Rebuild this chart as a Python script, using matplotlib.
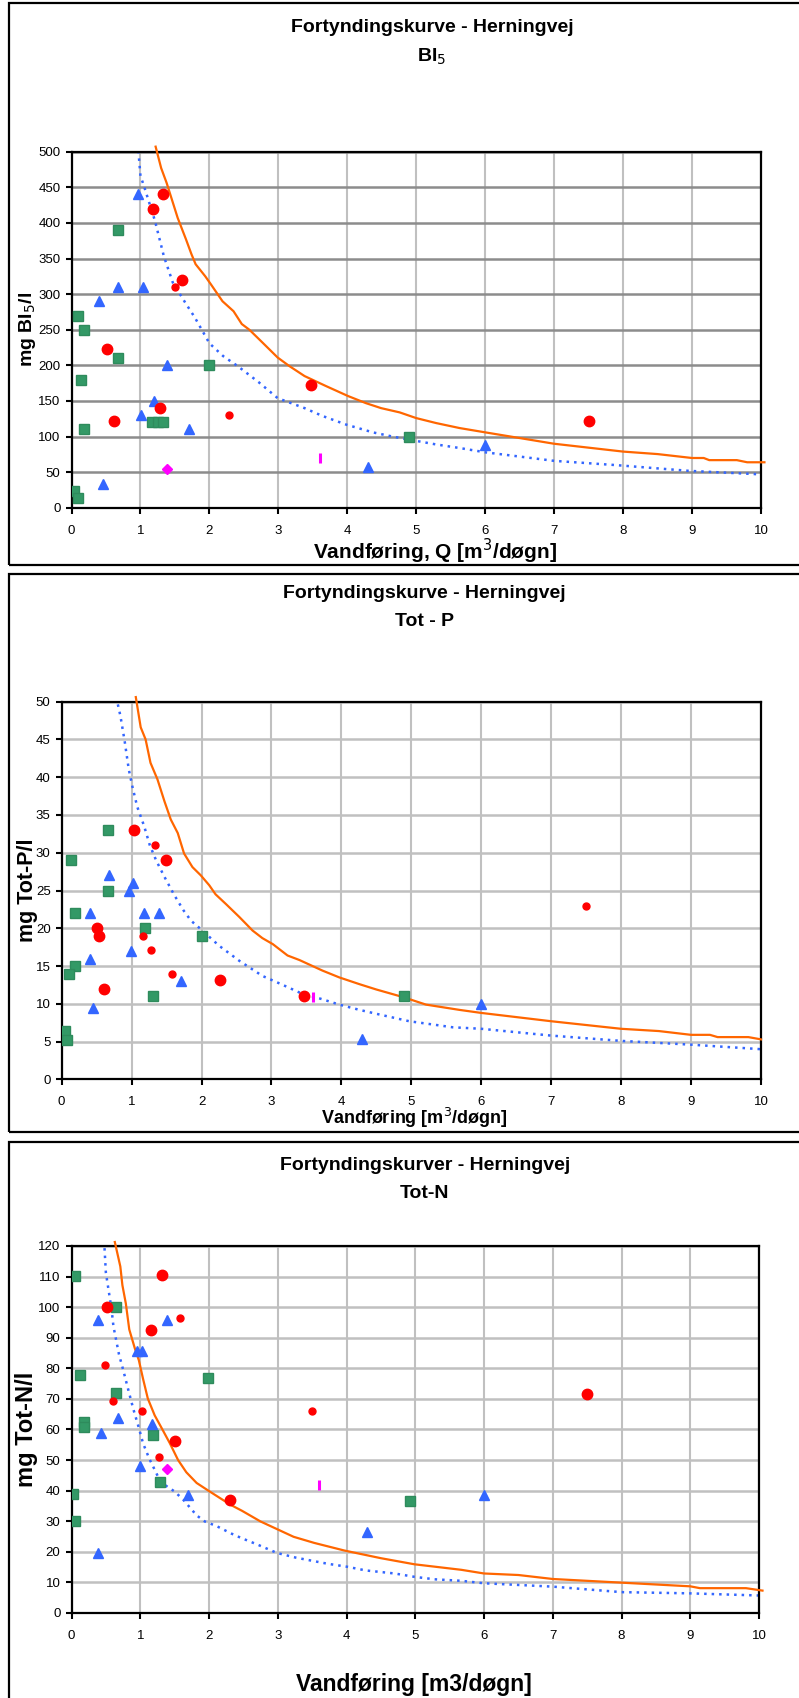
import matplotlib.pyplot as plt
from matplotlib.patches import Rectangle

plt.rcParams['font.family'] = ['Liberation Sans', 'DejaVu Sans']

# ---------------- BI5 ----------------
bi5_red_x = [1.32, 1.18, 1.60, 0.51, 1.29, 0.62, 3.48, 7.5]
bi5_red_y = [440, 420, 320, 223, 140, 122, 172, 122]
bi5_redsm_x = [1.50, 2.29]
bi5_redsm_y = [310, 130]
bi5_green_x = [0.67, 0.09, 0.18, 0.67, 0.14, 2.0, 0.18, 1.17, 1.25, 1.32, 4.89, 0.04, 0.09]
bi5_green_y = [390, 270, 250, 211, 180, 200, 110, 120, 120, 120, 100, 24, 14]
bi5_blue_x = [0.97, 0.68, 1.03, 0.40, 1.39, 1.19, 1.01, 1.71, 0.46, 4.30, 6.0]
bi5_blue_y = [440, 310, 310, 290, 200, 150, 130, 110, 34, 58, 88]
bi5_diam_x = [1.39]
bi5_diam_y = [54]
bi5_bar_x = [3.60]
bi5_bar_y = [70]
bi5_or_x = [1.22, 1.30, 1.38, 1.54, 1.66, 1.74, 1.80, 1.94, 2.02, 2.19, 2.35, 2.47, 2.58,
            2.77, 2.99, 3.16, 3.38, 3.69, 4.01, 4.27, 4.49, 4.76, 5.0, 5.29, 5.63, 6.0,
            7.0, 8.0, 8.5, 9.0, 9.17, 9.25, 9.65, 9.8, 10.05]
bi5_or_y = [507, 477, 456, 407, 377, 356, 342, 325, 314, 290, 276, 258, 250,
            232, 211, 199, 185, 171, 157, 147, 140, 134, 126, 119, 112, 106,
            90, 79, 75.5, 70, 70, 67, 67, 64, 64]
bi5_fit_x = [0.97, 1.0, 1.05, 1.21, 1.34, 1.47, 1.65, 1.79, 2.0, 2.20, 2.41, 2.72, 2.99,
             3.38, 3.64, 3.98, 4.37, 4.66, 5.0, 5.29, 5.63, 6.0, 7.0, 7.9, 8.95, 10.0]
bi5_fit_y = [501, 466, 452, 403, 353, 316, 288, 267, 231, 213, 199, 176, 154,
             140, 129, 117, 106, 100, 94, 89, 84, 78, 66, 60, 52, 47]

# ---------------- Tot-P ----------------
p_red_x = [1.04, 1.49, 0.50, 0.53, 0.61, 2.27, 3.47]
p_red_y = [33, 29, 20, 19, 12, 13.1, 11]
p_redsm_x = [1.33, 1.16, 1.28, 1.58, 7.5]
p_redsm_y = [31, 19, 17.1, 14, 23]
p_green_x = [0.66, 0.13, 0.66, 0.19, 1.19, 2.0, 0.19, 0.10, 1.30, 4.89, 0.05, 0.08]
p_green_y = [33, 29, 25, 22, 20, 19, 15, 14, 11, 11, 6.4, 5.2]
p_blue_x = [0.68, 1.02, 0.96, 0.41, 1.18, 1.39, 0.99, 0.41, 1.70, 0.45, 4.29, 6.0]
p_blue_y = [27, 26, 25, 22, 22, 22, 17, 16, 13, 9.5, 5.3, 10]
p_bar_x = [3.60]
p_bar_y = [10.9]
p_or_x = [1.06, 1.13, 1.20, 1.27, 1.37, 1.47, 1.56, 1.66, 1.75, 1.87, 1.99, 2.11, 2.20,
          2.35, 2.54, 2.73, 2.87, 3.02, 3.23, 3.40, 3.73, 3.97, 4.26, 4.50, 4.88, 5.21,
          5.69, 6.0, 7.0, 8.0, 8.54, 9.0, 9.27, 9.38, 9.82, 10.0]
p_or_y = [50.6, 46.6, 45.0, 41.9, 39.7, 36.8, 34.4, 32.6, 29.9, 28.1, 27.0, 25.7, 24.5,
          23.2, 21.5, 19.7, 18.7, 17.9, 16.4, 15.8, 14.4, 13.5, 12.6, 11.9, 10.9, 9.9,
          9.2, 8.8, 7.7, 6.7, 6.4, 5.9, 5.9, 5.6, 5.6, 5.3]
p_fit_x = [0.78, 0.84, 0.90, 0.96, 1.01, 1.08, 1.18, 1.26, 1.35, 1.47, 1.61, 1.74, 1.85,
           2.0, 2.25, 2.54, 2.87, 3.14, 3.40, 3.73, 3.97, 4.26, 4.54, 4.97, 5.36, 5.59,
           6.0, 7.0, 8.0, 9.0, 10.0]
p_fit_y = [50.6, 48.1, 44.8, 41.0, 38.8, 36.1, 33.5, 31.0, 29.0, 26.8, 24.4, 22.4, 21.0,
           19.8, 17.7, 15.7, 13.7, 12.6, 11.5, 10.6, 9.9, 9.2, 8.6, 7.7, 7.2, 6.9,
           6.7, 5.8, 5.1, 4.6, 4.0]

# ---------------- Tot-N ----------------
n_red_x = [1.32, 0.51, 1.15, 1.51, 2.30, 7.5]
n_red_y = [110.4, 100.2, 92.5, 56.2, 36.9, 71.5]
n_redsm_x = [1.58, 0.48, 0.61, 1.02, 3.50, 1.27]
n_redsm_y = [96.3, 81.2, 69.2, 66.2, 66.2, 51.1]
n_green_x = [0.05, 0.64, 0.12, 1.99, 0.64, 0.18, 0.18, 1.19, 1.28, 0.02, 0.05, 4.92]
n_green_y = [110.2, 100, 77.9, 76.9, 71.9, 62.5, 60.8, 58.1, 42.7, 38.8, 30.1, 36.6]
n_blue_x = [0.38, 1.39, 0.95, 1.02, 0.67, 1.17, 0.43, 0.99, 1.70, 4.30, 0.38, 6.0]
n_blue_y = [95.9, 95.9, 85.8, 85.8, 63.6, 61.7, 58.8, 47.9, 38.7, 26.6, 19.6, 38.5]
n_diam_x = [1.39]
n_diam_y = [47]
n_bar_x = [3.60]
n_bar_y = [42]
n_or_x = [0.63, 0.71, 0.74, 0.79, 0.84, 0.92, 0.98, 1.04, 1.11, 1.21, 1.31, 1.43, 1.55,
          1.67, 1.82, 1.99, 2.31, 2.48, 2.75, 2.99, 3.23, 3.53, 3.97, 4.50, 4.99, 5.67,
          6.0, 6.5, 7.0, 8.0, 9.0, 9.14, 9.81, 10.05]
n_or_y = [121.3, 113.3, 107.2, 101.2, 92.7, 86.6, 82.6, 76.6, 70.1, 64.6, 60.5, 55.5, 50.0,
          46.0, 42.5, 40.0, 35.4, 33.4, 29.9, 27.4, 24.9, 22.9, 20.4, 17.9, 15.9, 14.1,
          12.9, 12.4, 11.1, 9.9, 8.7, 8.1, 8.1, 7.3]
n_fit_x = [0.48, 0.50, 0.58, 0.61, 0.69, 0.75, 0.83, 0.90, 0.98, 1.04, 1.13, 1.26, 1.38,
           1.50, 1.63, 1.82, 1.94, 2.11, 2.33, 2.48, 2.70, 2.99, 3.26, 3.72, 4.01, 4.28,
           4.70, 4.99, 5.28, 5.67, 6.0, 7.0, 8.0, 9.0, 10.0]
n_fit_y = [119.3, 111.2, 99.7, 93.7, 84.6, 79.6, 72.6, 66.6, 60.5, 55.5, 50.5, 44.5, 41.5,
           39.7, 36.9, 31.9, 29.9, 28.4, 25.9, 24.4, 22.4, 19.6, 18.1, 16.1, 15.1, 13.9,
           12.9, 11.8, 11.0, 10.5, 9.7, 8.6, 6.8, 6.4, 5.7]

RED = '#FF0000'
GREEN = '#339966'
BLUE = '#3366FF'
MAG = '#FF00FF'
ORANGE = '#FF6600'

fig = plt.figure(figsize=(7.99, 16.98), dpi=100)


def draw(ax, d, ymax, ystep, hgrid):
    ax.plot(d['fit'][0], d['fit'][1], color=BLUE, ls=(0, (1, 2)), lw=1.8, zorder=2)
    ax.plot(d['or'][0], d['or'][1], color=ORANGE, lw=1.6, zorder=3, clip_on=False)
    ax.plot(d['green'][0], d['green'][1], 's', color=GREEN, ms=7.5, mec='#2e8b5c', zorder=4)
    ax.plot(d['blue'][0], d['blue'][1], '^', color=BLUE, ms=7.5, mec=BLUE, zorder=4)
    ax.plot(d['red'][0], d['red'][1], 'o', color=RED, ms=7.5, zorder=5)
    ax.plot(d['redsm'][0], d['redsm'][1], 'o', color=RED, ms=5, zorder=5)
    if 'diam' in d:
        ax.plot(d['diam'][0], d['diam'][1], 'D', color=MAG, ms=5, zorder=5)
    ax.plot(d['bar'][0], d['bar'][1], '|', color=MAG, ms=7, mew=2.2, zorder=5)
    ax.set_xlim(0, 10)
    ax.set_ylim(0, ymax)
    ax.set_xticks(range(0, 11))
    ax.set_yticks(range(0, ymax + 1, ystep))
    ax.grid(axis='x', color='#c0c0c0', lw=1.5)
    ax.grid(axis='y', color=hgrid, lw=1.8)
    ax.set_axisbelow(True)
    for s in ax.spines.values():
        s.set_linewidth(1.6)
    ax.tick_params(direction='out', length=4, width=1.5, labelsize=9.5)
    ax.tick_params(axis='x', pad=8)
    ax.tick_params(axis='y', pad=4)


panels = [
    dict(pos=[0.0895, 0.7009, 0.8629, 0.2098], ymax=500, ystep=50, hgrid='#8c8c8c',
         red=(bi5_red_x, bi5_red_y), redsm=(bi5_redsm_x, bi5_redsm_y),
         green=(bi5_green_x, bi5_green_y), blue=(bi5_blue_x, bi5_blue_y),
         diam=(bi5_diam_x, bi5_diam_y), bar=(bi5_bar_x, bi5_bar_y),
         fit=(bi5_fit_x, bi5_fit_y),
         title='Fortyndingskurve - Herningvej', sub='BI$_5$', ylabel='mg BI$_5$/l',
         xlabel='Vandføring, Q [m$^3$/døgn]', ty=27, sy=57, xly=551,
         tx=432, xlx=435, xls=15, yls=14, box=(9, 3, 565)),
    dict(pos=[0.0772, 0.3643, 0.8752, 0.2225], ymax=50, ystep=5, hgrid='#c0c0c0',
         red=(p_red_x, p_red_y), redsm=(p_redsm_x, p_redsm_y),
         green=(p_green_x, p_green_y), blue=(p_blue_x, p_blue_y),
         bar=(p_bar_x, p_bar_y), fit=(p_fit_x, p_fit_y),
         title='Fortyndingskurve - Herningvej', sub='Tot - P', ylabel='mg Tot-P/l',
         xlabel='Vandføring [m$^3$/døgn]', ty=593, sy=622, xly=1118,
         tx=424, xlx=414, xls=13, yls=15.5, box=(9, 574, 1132)),
    dict(pos=[0.0895, 0.0501, 0.8605, 0.2161], ymax=120, ystep=10, hgrid='#c0c0c0',
         red=(n_red_x, n_red_y), redsm=(n_redsm_x, n_redsm_y),
         green=(n_green_x, n_green_y), blue=(n_blue_x, n_blue_y),
         diam=(n_diam_x, n_diam_y), bar=(n_bar_x, n_bar_y),
         fit=(n_fit_x, n_fit_y),
         title='Fortyndingskurver - Herningvej', sub='Tot-N', ylabel='mg Tot-N/l',
         xlabel='Vandføring [m3/døgn]', ty=1165, sy=1194, xly=1685,
         tx=425, xlx=414, xls=16.5, yls=17, box=(9, 1142, 1710)),
]
panels[0]['or'] = (bi5_or_x, bi5_or_y)
panels[1]['or'] = (p_or_x, p_or_y)
panels[2]['or'] = (n_or_x, n_or_y)

H = 1698.0
W = 799.0
for p in panels:
    ax = fig.add_axes(p['pos'])
    draw(ax, p, p['ymax'], p['ystep'], p['hgrid'])
    cx = p['tx'] / W
    fig.text(cx, 1 - p['ty'] / H, p['title'], ha='center', va='center',
             fontsize=14, fontweight='bold')
    fig.text(cx, 1 - p['sy'] / H, p['sub'], ha='center', va='center',
             fontsize=14, fontweight='bold')
    fig.text(p['xlx'] / W, 1 - p['xly'] / H, p['xlabel'], ha='center', va='center',
             fontsize=p['xls'], fontweight='bold')
    fig.text(27 / W, p['pos'][1] + p['pos'][3] / 2, p['ylabel'], rotation=90,
             ha='center', va='center', fontsize=p['yls'], fontweight='bold')
    x0, top, bot = p['box']
    fig.add_artist(Rectangle((x0 / W, 1 - bot / H), (W + 10 - x0) / W, (bot - top) / H,
                             transform=fig.transFigure, fill=False, ec='black',
                             lw=1.6, clip_on=False))

fig.savefig('out.png', dpi=100)
